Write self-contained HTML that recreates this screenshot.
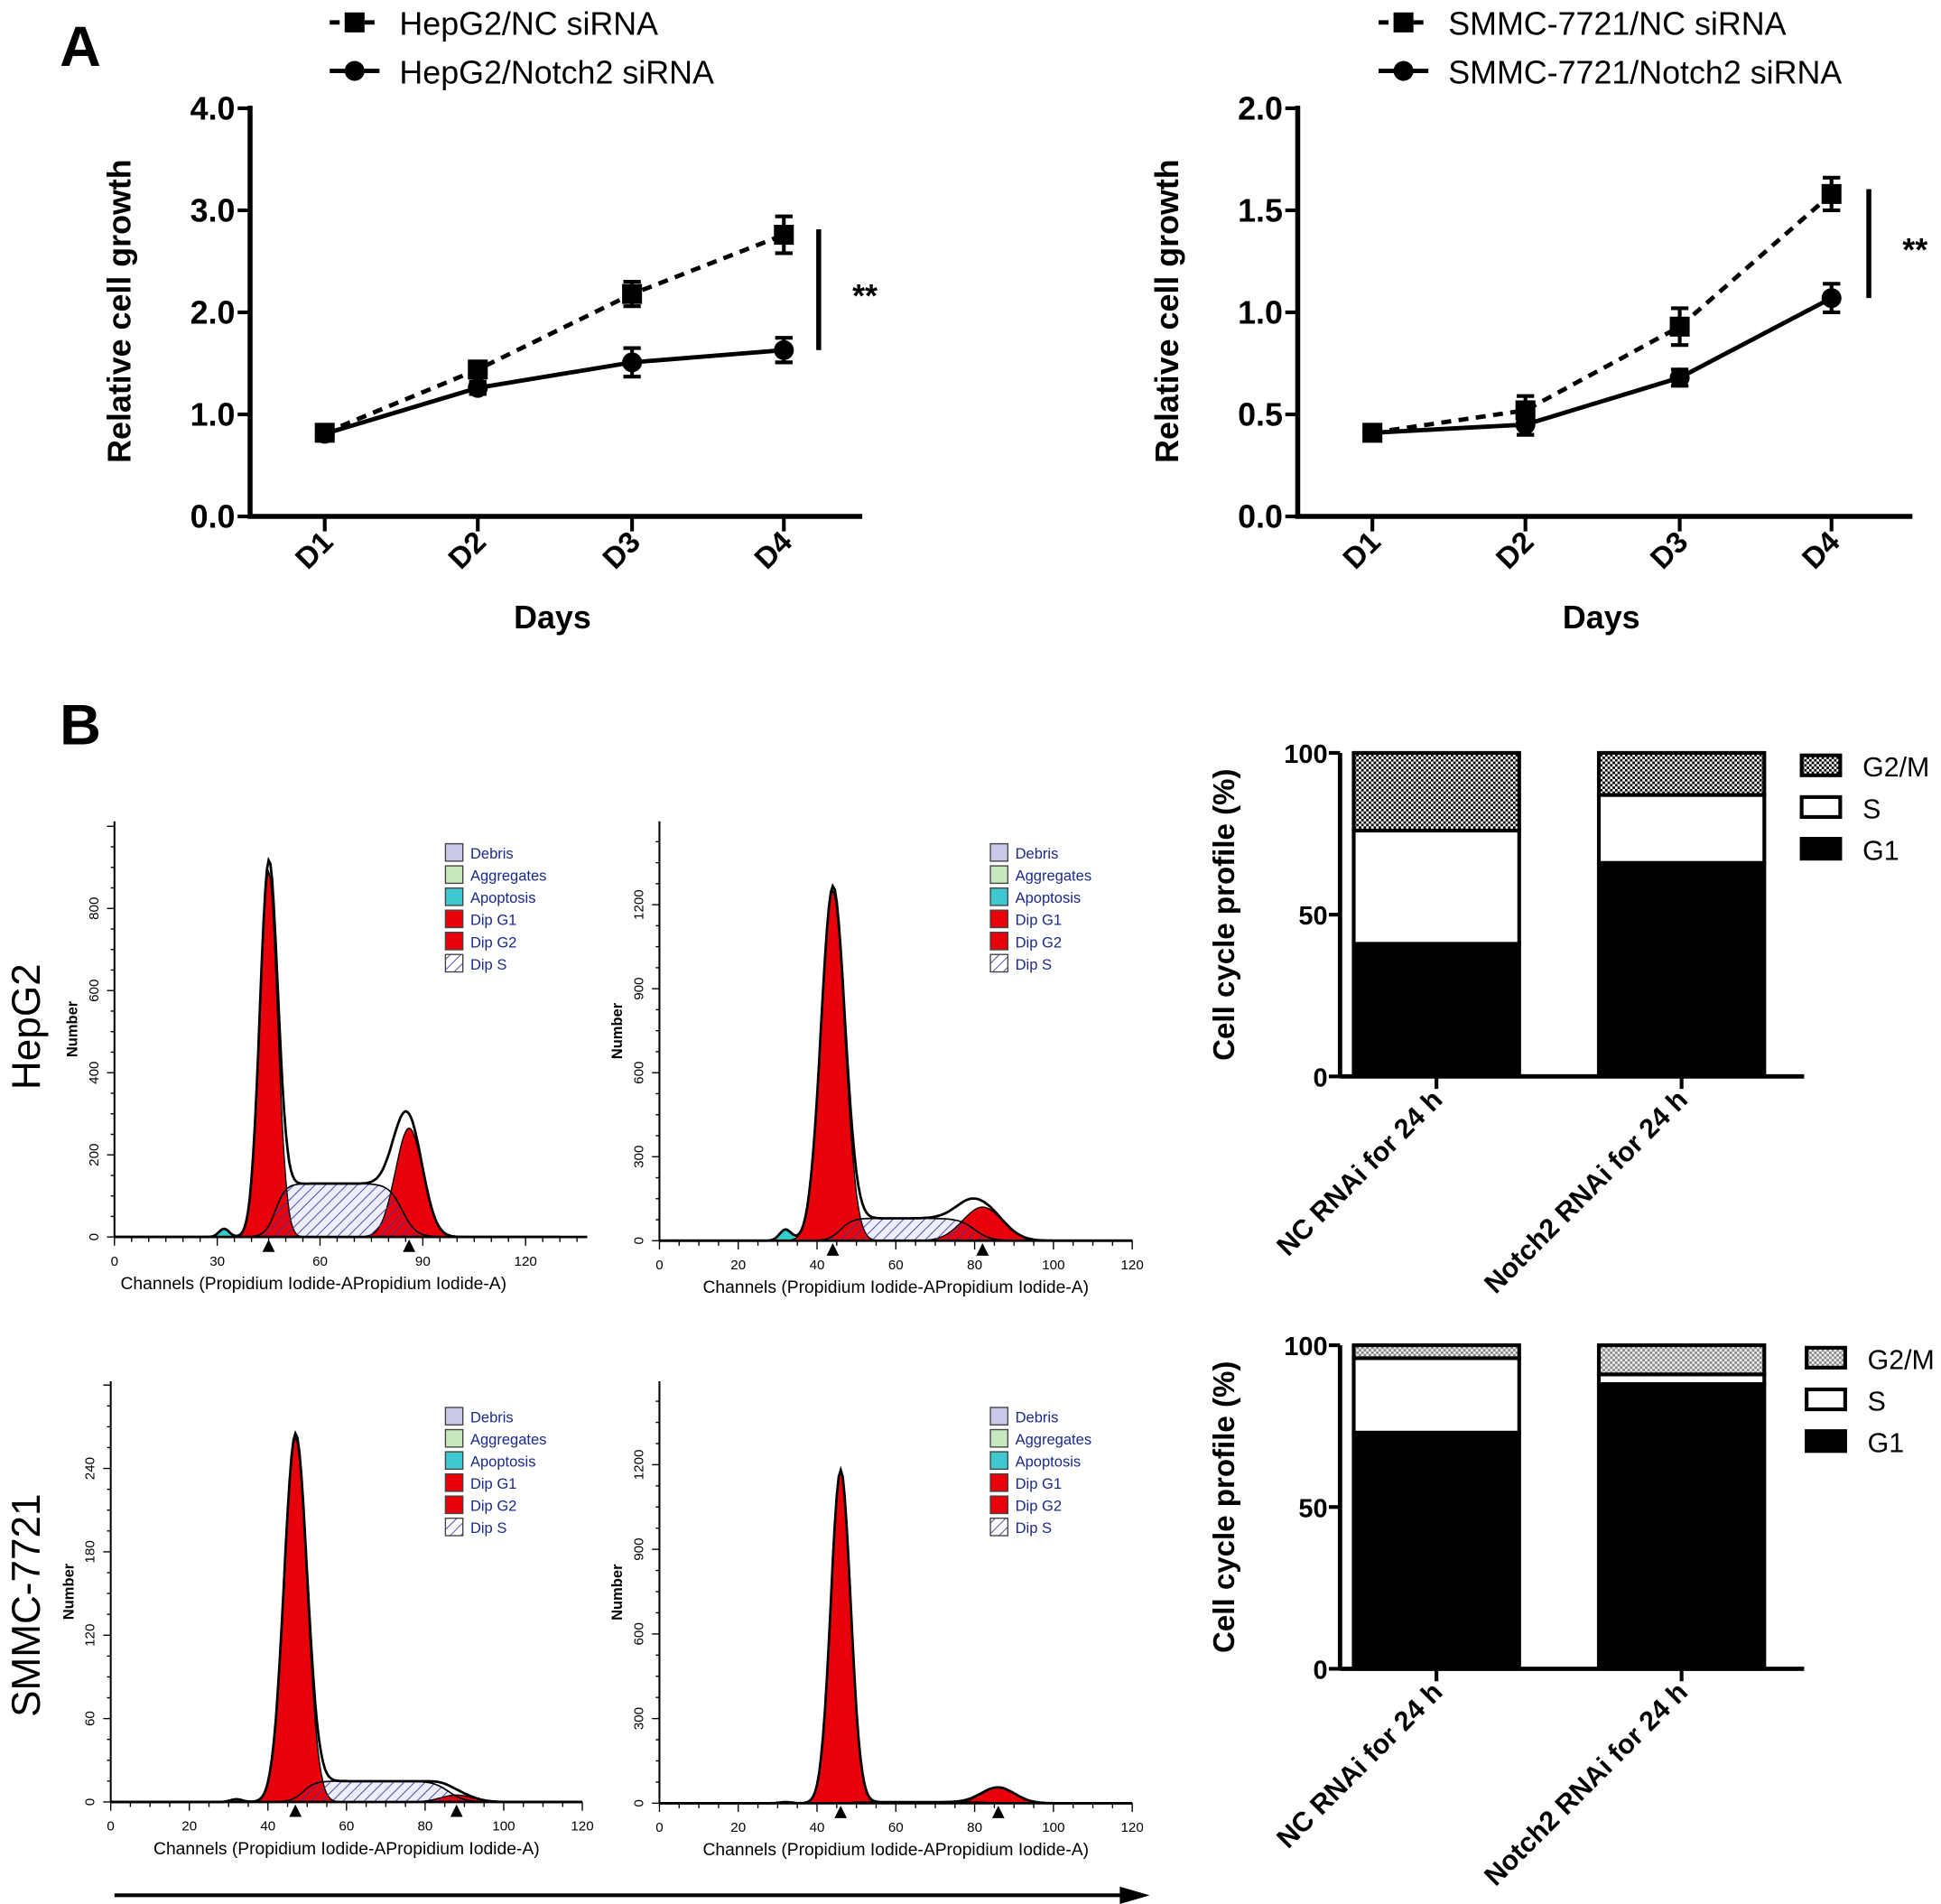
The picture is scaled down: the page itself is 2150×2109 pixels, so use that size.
<!DOCTYPE html>
<html><head><meta charset="utf-8"><style>
html,body{margin:0;padding:0;background:#fff;}
svg{display:block;font-family:"Liberation Sans",sans-serif;}
.b{font-weight:bold;}
</style></head><body>
<svg id="fig" width="2150" height="2109" viewBox="0 0 1560 1530" preserveAspectRatio="none" xmlns="http://www.w3.org/2000/svg">
<defs>
<pattern id="hatch" width="6" height="6" patternUnits="userSpaceOnUse" patternTransform="rotate(45)"><line x1="0" y1="0" x2="0" y2="6" stroke="#3a3aa0" stroke-width="1.3"/></pattern>
<pattern id="check" width="4" height="4" patternUnits="userSpaceOnUse"><rect width="4" height="4" fill="#fff"/><rect width="2" height="2" fill="#000"/><rect x="2" y="2" width="2" height="2" fill="#000"/></pattern>
<pattern id="check2" width="4" height="4" patternUnits="userSpaceOnUse"><rect width="4" height="4" fill="#eee"/><rect width="2" height="2" fill="#888"/><rect x="2" y="2" width="2" height="2" fill="#888"/></pattern>
</defs>
<text x="48" y="53" class="b" font-size="46">A</text>
<text x="48" y="598" class="b" font-size="46">B</text>
<text transform="translate(32,825) rotate(-90)" text-anchor="middle" font-size="32">HepG2</text>
<text transform="translate(32,1290) rotate(-90)" text-anchor="middle" font-size="32">SMMC-7721</text>
<line x1="92" y1="1523" x2="905" y2="1523" stroke="#000" stroke-width="3"/>
<polygon points="924,1523 900,1516 900,1530" fill="#000"/>
</svg>
<script>
// ===== Line chart data =====
const days = ["D1","D2","D3","D4"];
const hepNC = [0.82,1.44,2.18,2.76];
const hepNCerr = [0.05,0.07,0.12,0.18];
const hepKD = [0.81,1.26,1.51,1.63];
const hepKDerr = [0.04,0.06,0.14,0.12];
const hepTicks = ["0.0","1.0","2.0","3.0","4.0"];
const smNC = [0.41,0.52,0.93,1.58];
const smNCerr = [0.03,0.07,0.09,0.08];
const smKD = [0.41,0.45,0.68,1.07];
const smKDerr = [0.03,0.05,0.04,0.07];
const smTicks = ["0.0","0.5","1.0","1.5","2.0"];
// ===== Bar chart data =====
const barCats = ["NC RNAi for 24 h","Notch2 RNAi for 24 h"];
const hepG1 = [41,66];
const hepS = [35,21];
const hepG2M = [24,13];
const smG1 = [73,88];
const smS = [23,3];
const smG2M = [4,9];
const barTicks = ["0","50","100"];
// ===== Histogram model params [panel1..panel4] =====
const g1Mean = [45,44,47,46];
const g1Height = [890,1250,262,1180];
const g1Sd = [2.6,3.0,2.9,2.5];
const g2Mean = [86,82,88,86];
const g2Height = [265,120,5,55];
const g2Sd = [4.0,5.0,4.0,4.2];
const sLevel = [130,80,15,4];
const apopHeight = [20,40,2,4];
const xTickLabels = [["0","30","60","90","120"],["0","20","40","60","80","100","120"],["0","20","40","60","80","100","120"],["0","20","40","60","80","100","120"]];
const yTickLabels = [["0","200","400","600","800"],["0","300","600","900","1200"],["0","60","120","180","240"],["0","300","600","900","1200"]];
const legendItems = ["Debris","Aggregates","Apoptosis","Dip G1","Dip G2","Dip S"];

const NS="http://www.w3.org/2000/svg";
const svg=document.getElementById('fig');
function mk(tag,attrs,parent){const e=document.createElementNS(NS,tag);for(const k in attrs)e.setAttribute(k,attrs[k]);(parent||svg).appendChild(e);return e;}
function txt(s,attrs){const e=mk('text',attrs);e.textContent=s;return e;}

function lineChart(o){
  const x0=o.x0,x1=o.x1,yTop=87,yBot=415;
  const ys=v=>yBot-(v/o.ymax)*(yBot-yTop);
  const xs=i=>o.xpos[i];
  let e=mk('line',{x1:x0,y1:yTop-2,x2:x0,y2:yBot,stroke:'#000','stroke-width':4});
  
  
  e=mk('line',{x1:x0-2,y1:yBot,x2:x1,y2:yBot,stroke:'#000','stroke-width':4});
  
  
  o.ticks.forEach((t,i)=>{
    const v=o.ymax*i/(o.ticks.length-1);
    let l=mk('line',{x1:x0-10,y1:ys(v),x2:x0,y2:ys(v),stroke:'#000','stroke-width':3});
    
    
    let tt=txt(t,{x:x0-12,y:ys(v)+9,'text-anchor':'end','font-size':26,class:'b'});
    
    
  });
  days.forEach((d,i)=>{
    let l=mk('line',{x1:xs(i),y1:yBot,x2:xs(i),y2:yBot+12,stroke:'#000','stroke-width':3});
    
    
    let tt=txt(d,{transform:`translate(${xs(i)+8},${yBot+22}) rotate(-45)`,'text-anchor':'end','font-size':24,class:'b'});
    
    
  });
  let yt=txt('Relative cell growth',{transform:`translate(${x0-96},250) rotate(-90)`,'text-anchor':'middle','font-size':26,class:'b'});
  
  
  let xt=txt('Days',{x:(x0+x1)/2-3,y:505,'text-anchor':'middle','font-size':26,class:'b'});
  
  
  [[o.nc,o.ncErr,'8,6','square'],[o.kd,o.kdErr,'','circle']].forEach(([vals,err,dash,shape])=>{
    const pts=vals.map((v,i)=>xs(i)+','+ys(v)).join(' ');
    let p=mk('polyline',{points:pts,fill:'none',stroke:'#000','stroke-width':3.5,'stroke-dasharray':dash});
    
    
    vals.forEach((v,i)=>{
      const x=xs(i),a=ys(v+err[i]),b=ys(v-err[i]);
      let eb=mk('path',{d:`M${x},${a}V${b}M${x-7},${a}H${x+7}M${x-7},${b}H${x+7}`,stroke:'#000','stroke-width':3,fill:'none'});
      
      
      let m=shape==='square'?mk('rect',{x:x-8,y:ys(v)-8,width:16,height:16,fill:'#000'}):mk('circle',{cx:x,cy:ys(v),r:8,fill:'#000'});
      
      
    });
  });
  const top=ys(o.nc[3]+o.ncErr[3]*0.3),bot=ys(o.kd[3]);
  let sb=mk('line',{x1:x1-35,y1:top,x2:x1-35,y2:bot,stroke:'#000','stroke-width':4});
  
  
  let st=txt('**',{x:x1-8,y:(top+bot)/2+14,'font-size':26,class:'b'});
  
  
  const lx=o.legX;
  let l1=mk('line',{x1:lx,y1:18,x2:lx+40,y2:18,stroke:'#000','stroke-width':3.5,'stroke-dasharray':'8,6'});
  
  
  let r1=mk('rect',{x:lx+12,y:10,width:16,height:16,fill:'#000'});
  
  
  let t1=txt(o.ncName,{x:lx+56,y:28,'font-size':26});
  
  
  let l2=mk('line',{x1:lx,y1:57,x2:lx+40,y2:57,stroke:'#000','stroke-width':3.5});
  
  
  let c2=mk('circle',{cx:lx+20,cy:57,r:8,fill:'#000'});
  
  
  let t2=txt(o.kdName,{x:lx+56,y:67,'font-size':26});
  
  
}
lineChart({id:'hepg2-growth',x0:201,x1:693,ymax:4,ticks:hepTicks,xpos:[261,384,508,630],nc:hepNC,ncErr:hepNCerr,kd:hepKD,kdErr:hepKDerr,legX:265,ncName:'HepG2/NC siRNA',kdName:'HepG2/Notch2 siRNA'});
lineChart({id:'smmc-growth',x0:1043,x1:1537,ymax:2,ticks:smTicks,xpos:[1103,1226,1350,1472],nc:smNC,ncErr:smNCerr,kd:smKD,kdErr:smKDerr,legX:1108,ncName:'SMMC-7721/NC siRNA',kdName:'SMMC-7721/Notch2 siRNA'});

function barChart(o){
  const x0=1077,x1=1450,yTop=o.yTop,yBot=o.yTop+260;
  const ys=v=>yBot-(v/100)*(yBot-yTop);
  const bx=[1088,1285],bw=133;
  barCats.forEach((c,i)=>{
    const segs=[[0,o.g1[i],'#000','g1'],[o.g1[i],o.g1[i]+o.s[i],'#fff','s'],[o.g1[i]+o.s[i],o.g1[i]+o.s[i]+o.g2m[i],o.chk,'g2m']];
    segs.forEach(([a,b,f,n])=>{
      let r=mk('rect',{x:bx[i],y:ys(b),width:bw,height:ys(a)-ys(b),fill:f,stroke:'#000','stroke-width':3});
      
      
    });
    const cx=bx[i]+bw/2;
    let tk=mk('line',{x1:cx,y1:yBot,x2:cx,y2:yBot+10,stroke:'#000','stroke-width':3});
    
    
    let t=txt(c,{transform:`translate(${cx+6},${yBot+20}) rotate(-45)`,'text-anchor':'end','font-size':22,class:'b'});
    
    
  });
  let ya=mk('line',{x1:x0,y1:yTop,x2:x0,y2:yBot,stroke:'#000','stroke-width':3.5});
  
  
  let xa=mk('line',{x1:x0,y1:yBot,x2:x1,y2:yBot,stroke:'#000','stroke-width':3.5});
  
  
  barTicks.forEach((t,i)=>{
    const v=i*50;
    let l=mk('line',{x1:x0-9,y1:ys(v),x2:x0,y2:ys(v),stroke:'#000','stroke-width':3});
    
    
    let tt=txt(t,{x:x0-10,y:ys(v)+8,'text-anchor':'end','font-size':21,class:'b'});
    
    
  });
  let yt=txt('Cell cycle profile (%)',{transform:`translate(992,${(yTop+yBot)/2}) rotate(-90)`,'text-anchor':'middle','font-size':24,class:'b'});
  
  
  [['G2/M',o.chk],['S','#fff'],['G1','#000']].forEach(([n,f],i)=>{
    let r=mk('rect',{x:o.legX,y:yTop+2+i*33.5,width:31,height:16,fill:f,stroke:'#000','stroke-width':3});
    
    
    let t=txt(n,{x:o.legX+49,y:yTop+19+i*33.5,'font-size':22});
    
    
  });
}
barChart({id:'hepg2-cycle',yTop:605,g1:hepG1,s:hepS,g2m:hepG2M,chk:'url(#check)',legX:1448});
barChart({id:'smmc-cycle',yTop:1081,g1:smG1,s:smS,g2m:smG2M,chk:'url(#check2)',legX:1452});

const panels=[
 {x0:92,x1:472,yTop:660,yBot:994,xmax:138,xstep:30,ymaxTick:800,legY:685},
 {x0:530,x1:910,yTop:660,yBot:997,xmax:120,xstep:20,ymaxTick:1200,legY:685},
 {x0:89,x1:468,yTop:1110,yBot:1448,xmax:120,xstep:20,ymaxTick:240,legY:1138},
 {x0:530,x1:910,yTop:1110,yBot:1449,xmax:120,xstep:20,ymaxTick:1200,legY:1138}
];
const sig=z=>1/(1+Math.exp(-z));
panels.forEach((p,k)=>{
  const id='histogram-'+(k+1);
  const tickTopPx=[730,727,1180,1177][k];
  const ys=v=>p.yBot-(v/p.ymaxTick)*(p.yBot-tickTopPx);
  const xs=c=>p.x0+(c/(p.xmax))*(p.x1-p.x0);
  const g1=c=>g1Height[k]*Math.exp(-0.5*((c-g1Mean[k])/g1Sd[k])**2);
  const g2=c=>g2Height[k]*Math.exp(-0.5*((c-g2Mean[k])/g2Sd[k])**2);
  const sf=c=>sLevel[k]*sig((c-g1Mean[k]-2)/1.5)*sig((g2Mean[k]-c-2)/2);
  const ap=c=>apopHeight[k]*Math.exp(-0.5*((c-32)/1.5)**2);
  const area=(f,a,b)=>{let d=`M${xs(a)},${p.yBot}`;for(let c=a;c<=b;c+=0.5)d+=`L${xs(c).toFixed(1)},${ys(f(c)).toFixed(1)}`;return d+`L${xs(b)},${p.yBot}Z`;};
  let s1=mk('path',{d:area(sf,g1Mean[k]-10,g2Mean[k]+12),fill:'#eef'});
  
  
  let a1=mk('path',{d:area(ap,26,38),fill:'#3cc'});
  
  
  let r1=mk('path',{d:area(g1,g1Mean[k]-12,g1Mean[k]+12),fill:'#e8000b',stroke:'#000','stroke-width':1});
  
  
  let r2=mk('path',{d:area(g2,g2Mean[k]-16,g2Mean[k]+16),fill:'#e8000b',stroke:'#000','stroke-width':1});
  
  
  let s2=mk('path',{d:area(sf,g1Mean[k]-10,g2Mean[k]+12),fill:'url(#hatch)',stroke:'#000','stroke-width':1.2});
  
  
  const tot=c=>g1(c)+g2(c)+sf(c)+ap(c);
  let d='';for(let c=0;c<=Math.min(p.xmax,130);c+=0.5)d+=(c?'L':'M')+xs(c).toFixed(1)+','+ys(tot(c)).toFixed(1);
  let tl=mk('path',{d:d,fill:'none',stroke:'#000','stroke-width':2});
  
  
  let ya=mk('line',{x1:p.x0,y1:p.yTop,x2:p.x0,y2:p.yBot,stroke:'#000','stroke-width':1.5});
  
  
  let xa=mk('line',{x1:p.x0,y1:p.yBot,x2:p.x1,y2:p.yBot,stroke:'#000','stroke-width':2});
  
  
  for(let c=0;c<=p.xmax;c+=5){
    let l=mk('line',{x1:xs(c),y1:p.yBot,x2:xs(c),y2:p.yBot+(c%p.xstep===0?7:4),stroke:'#000','stroke-width':1});
    
    
  }
  xTickLabels[k].forEach((t,i)=>{
    let tt=txt(t,{x:xs(i*p.xstep),y:p.yBot+23,'text-anchor':'middle','font-size':11});
    
    
  });
  const ystep=p.ymaxTick/4;
  for(let v=0;v<=ystep*5;v+=ystep/4){
    if(ys(v)<p.yTop)break;
    let l=mk('line',{x1:p.x0-(v%ystep===0?6:3),y1:ys(v),x2:p.x0,y2:ys(v),stroke:'#000','stroke-width':1});
    
    
  }
  yTickLabels[k].forEach((t,i)=>{
    let tt=txt(t,{transform:`translate(${p.x0-13},${ys(i*ystep)}) rotate(-90)`,'text-anchor':'middle','font-size':11});
    
    
  });
  let yt=txt('Number',{transform:`translate(${p.x0-30},${(p.yTop+p.yBot)/2}) rotate(-90)`,'text-anchor':'middle','font-size':12,class:'b'});
  
  
  let xt=txt('Channels (Propidium Iodide-APropidium Iodide-A)',{x:(p.x0+p.x1)/2-(k===0?30:0),y:p.yBot+42,'text-anchor':'middle','font-size':14});
  
  
  [g1Mean[k],g2Mean[k]].forEach(m=>{
    let tr=mk('polygon',{points:`${xs(m)},${p.yBot+2} ${xs(m)-5},${p.yBot+12} ${xs(m)+5},${p.yBot+12}`,fill:'#000'});
    
    
  });
  const fills=['#c8c8e8','#c8e8c0','#40c8d0','#e8000b','#e8000b','url(#hatch)'];
  const lx=[358,796,358,796][k];
  legendItems.forEach((n,i)=>{
    let r=mk('rect',{x:lx,y:p.legY-7+i*17.8,width:14,height:14,fill:fills[i],stroke:'#444','stroke-width':1});
    
    
    let t=txt(n,{x:lx+20,y:p.legY+5+i*17.8,'font-size':12,fill:'#1a2a8a'});
    
    
  });
});
</script>
</body></html>
